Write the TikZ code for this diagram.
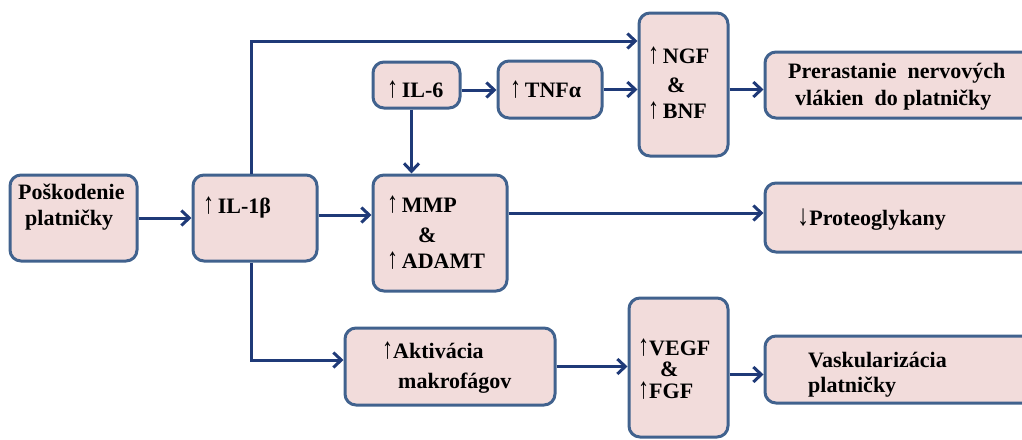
\documentclass[tikz,border=0pt]{standalone}
\usepackage{fontspec}
\usepackage{graphicx}
\setmainfont{Liberation Serif}
\usetikzlibrary{arrows.meta}
\definecolor{boxfill}{HTML}{F2DCDB}
\definecolor{boxline}{HTML}{41628E}
\definecolor{wire}{HTML}{1F3A78}
% thin, tall arrows used before the substance names
\newcommand\uparr{{\mdseries\scalebox{1}[1.35]{\char"2191}}}
\newcommand\dnarr{{\mdseries\scalebox{1.1}[1.35]{\char"2193}}}

\begin{document}
\begin{tikzpicture}[x=1pt,y=-1pt,
  box/.style={draw=boxline, line width=3pt, fill=boxfill, rounded corners=11pt, inner sep=0pt},
  lbl/.style={font=\fontsize{22}{26}\selectfont\bfseries, anchor=base west, inner sep=0pt, text=black},
  link/.style={draw=wire, line width=3pt, -{Straight Barb[length=8pt,width=15pt,line width=3pt]}}]
\useasboundingbox (0,0) rectangle (1022,439);
\clip (0,0) rectangle (1022,439);

% boxes
\node[box, minimum width=127pt, minimum height=86pt]  (pos)  at (73.5,218)  {};
\node[box, minimum width=124pt, minimum height=86pt]  (il1)  at (255,218)   {};
\node[box, minimum width=87pt,  minimum height=46pt]  (il6)  at (416.5,85)  {};
\node[box, minimum width=104pt, minimum height=57pt]  (tnf)  at (550,89.5)  {};
\node[box, minimum width=89pt,  minimum height=143pt] (ngf)  at (683.5,84.5) {};
\node[box, minimum width=270pt, minimum height=66pt]  (prer) at (900,85)    {};
\node[box, minimum width=134pt, minimum height=116pt] (mmp)  at (440,233)   {};
\node[box, minimum width=270pt, minimum height=69pt]  (prot) at (900,217.5) {};
\node[box, minimum width=210pt, minimum height=77pt]  (akt)  at (450,366.5) {};
\node[box, minimum width=99pt,  minimum height=139pt] (vegf) at (678.5,367.5) {};
\node[box, minimum width=270pt, minimum height=67pt]  (vask) at (900,369.5) {};

% texts
\node[lbl] (tpos1) at (18,199) {Poškodenie};
\node[lbl] (tpos2) at (25,225) {platničky};
\node[lbl] (til1)  at (203,213) {\uparr\,IL-1β};
\node[lbl] (til6)  at (387,97)  {\uparr\,IL-6};
\node[lbl] (ttnf)  at (510,97)  {\uparr\,TNFα};
\node[lbl] (tngf1) at (648,63)  {\uparr\,NGF};
\node[lbl] (tngf2) at (667,92)  {\&};
\node[lbl] (tngf3) at (648,118) {\uparr\,BNF};
\node[lbl] (tpre1) at (788,78)  {Prerastanie\ \ nervových};
\node[lbl] (tpre2) at (795,105) {vlákien\ \ do platničky};
\node[lbl] (tmmp1) at (387,212) {\uparr\,MMP};
\node[lbl] (tmmp2) at (418,242) {\&};
\node[lbl] (tmmp3) at (387,268) {\uparr\,ADAMT};
\node[lbl] (tprot) at (797,225) {\dnarr Proteoglykany};
\node[lbl] (takt1) at (382,358) {\uparr Aktivácia};
\node[lbl] (takt2) at (398,388) {makrofágov};
\node[lbl] (tveg1) at (638,355) {\uparr VEGF};
\node[lbl] (tveg2) at (660,376) {\&};
\node[lbl] (tveg3) at (638,398) {\uparr FGF};
\node[lbl] (tvas1) at (808,367) {Vaskularizácia};
\node[lbl] (tvas2) at (808,392) {platničky};

% turning levels of the branch lines
\coordinate (ytop) at (0,41);
\coordinate (ybot) at (0,360);

% connectors
\draw[link] (pos.east) -- (il1.west);
\draw[link] ([xshift=-4pt]il1.north) |- (ngf.west |- ytop);
\draw[link] ([yshift=3pt]il1.east) -- ([yshift=3pt]il1.east -| mmp.west);
\draw[link] ([xshift=-4pt]il1.south) |- (akt.west |- ybot);
\draw[link] ([yshift=-5pt]il6.east) -- ([yshift=-5pt]il6.east -| tnf.west);
\draw[link] (tnf.east) -- (tnf.east -| ngf.west);
\draw[link] ([yshift=-5pt]ngf.east) -- ([yshift=-5pt]ngf.east -| prer.west);
\draw[link] ([xshift=-5pt]il6.south) -- ([xshift=-5pt]il6.south |- mmp.north);
\draw[link] ([yshift=20pt]mmp.east) -- ([yshift=20pt]mmp.east -| prot.west);
\draw[link] (akt.east) -- (akt.east -| vegf.west);
\draw[link] ([yshift=-7pt]vegf.east) -- ([yshift=-7pt]vegf.east -| vask.west);
\end{tikzpicture}
\end{document}
